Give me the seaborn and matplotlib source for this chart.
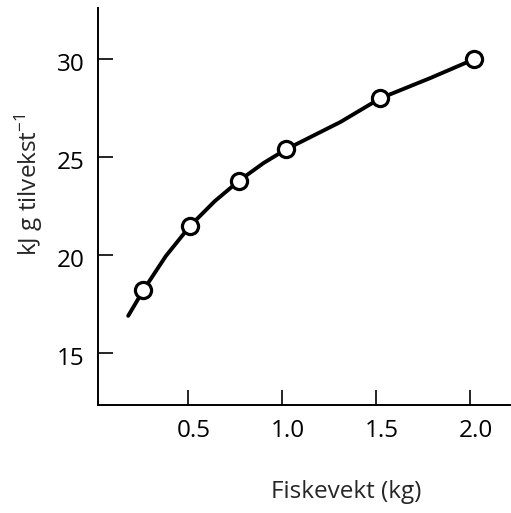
import numpy as np
import matplotlib
matplotlib.use('Agg')
import matplotlib.pyplot as plt
import matplotlib.transforms as mtransforms
import seaborn as sns

# målte punkter (fiskevekt i kg, energikostnad kJ per g tilvekst)
vekt = [0.26, 0.51, 0.77, 1.02, 1.52, 2.02]
energi = [18.2, 21.5, 23.8, 25.4, 28.0, 30.0]

# kurven slik den er tegnet i figuren (avlest)
kurve_x = [0.18, 0.26, 0.38, 0.51, 0.64, 0.77, 0.90, 1.02, 1.31, 1.52, 1.79, 2.02]
kurve_y = [16.9, 18.2, 19.95, 21.5, 22.75, 23.8, 24.7, 25.4, 26.8, 28.0, 29.05, 30.0]

x_ticks = [0.5, 1.0, 1.5, 2.0]
y_ticks = [15, 20, 25, 30]

sns.set_style('ticks')
plt.rcParams['font.family'] = ['Open Sans', 'DejaVu Sans']
plt.rcParams['mathtext.fontset'] = 'custom'
plt.rcParams['mathtext.rm'] = 'Open Sans'

fig = plt.figure(figsize=(5.11, 5.13), dpi=100)
ax = fig.add_axes([0.192, 0.2105, 0.806, 0.7735])

sns.lineplot(x=kurve_x, y=kurve_y, ax=ax, color='black', linewidth=2.8,
             sort=False, estimator=None)
sns.scatterplot(x=vekt, y=energi, ax=ax, marker='o', s=135, color='white',
                edgecolor='black', linewidth=2.3, zorder=3)

ax.set_xlim(0.02, 2.21)
ax.set_ylim(12.35, 32.6)
ax.set_xticks(x_ticks)
ax.set_xticklabels([f'{v:.1f}' for v in x_ticks])
ax.set_yticks(y_ticks)

ax.tick_params(axis='both', direction='in', colors='black', labelsize=17.5,
               width=1.2, length=11)
ax.tick_params(axis='y', pad=10)
ax.tick_params(axis='x', pad=10)

# tallene er litt forskjøvet i originalen
dx = mtransforms.ScaledTranslation(5 / 100, 0, fig.dpi_scale_trans)
for lab in ax.get_xticklabels():
    lab.set_transform(lab.get_transform() + dx)
dy = mtransforms.ScaledTranslation(0, -3 / 100, fig.dpi_scale_trans)
for lab in ax.get_yticklabels():
    lab.set_transform(lab.get_transform() + dy)

for s in ['left', 'bottom']:
    ax.spines[s].set_linewidth(1.4)
    ax.spines[s].set_color('black')
sns.despine(ax=ax)

ax.set_xlabel('Fiskevekt (kg)', fontsize=17.5, va='top')
ax.xaxis.set_label_coords(0.602, -0.19)
ax.set_ylabel('kJ g tilvekst$^{\\mathregular{-1}}$', fontsize=17.5)
ax.yaxis.set_label_coords(-0.13, 0.554)

plt.savefig('out.png', dpi=100)
plt.close()
